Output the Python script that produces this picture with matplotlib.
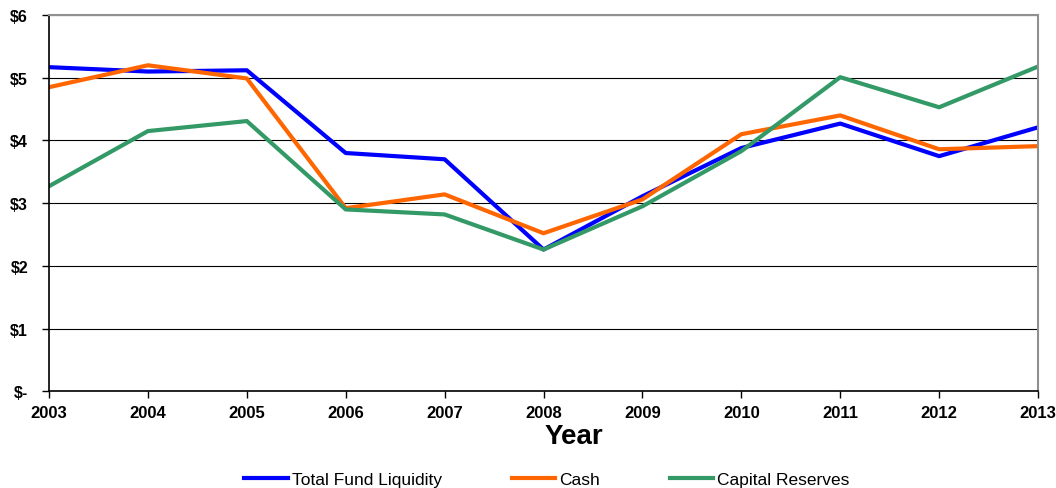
import matplotlib
matplotlib.use("Agg")
import matplotlib.pyplot as plt
from matplotlib.ticker import FuncFormatter

years = [2003, 2004, 2005, 2006, 2007, 2008, 2009, 2010, 2011, 2012, 2013]
total_fund_liquidity = [5.17, 5.10, 5.12, 3.80, 3.70, 2.26, 3.11, 3.88, 4.27, 3.75, 4.21]
cash = [4.85, 5.20, 4.99, 2.92, 3.14, 2.52, 3.06, 4.10, 4.40, 3.86, 3.91]
capital_reserves = [3.27, 4.15, 4.31, 2.90, 2.82, 2.26, 2.95, 3.83, 5.01, 4.53, 5.18]
yticks = [0, 1, 2, 3, 4, 5, 6]

plt.rcParams['font.family'] = ['Liberation Sans', 'DejaVu Sans']

fig = plt.figure(figsize=(10.56, 4.89), dpi=100)
ax = fig.add_axes([0.0464, 0.198, 0.9366, 0.769])

ax.plot(years, total_fund_liquidity, color='#0000FF', lw=3, label='Total Fund Liquidity')
ax.plot(years, cash, color='#FF6600', lw=3, label='Cash')
ax.plot(years, capital_reserves, color='#339966', lw=3, label='Capital Reserves')

ax.set_xlim(2003, 2013)
ax.set_ylim(0, 6)
ax.set_xticks(years)
ax.set_yticks(yticks)
ax.yaxis.set_major_formatter(FuncFormatter(lambda v, p: '$-' if v == 0 else f'${int(v)}'))
ax.grid(axis='y', color='black', lw=0.8)
ax.set_axisbelow(True)

for lab in ax.get_xticklabels():
    lab.set_fontweight('bold')
    lab.set_fontsize(12)
for lab in ax.get_yticklabels():
    lab.set_fontweight('bold')
    lab.set_fontsize(11.5)
ax.tick_params(direction='out', length=5, width=1, colors='black')
ax.tick_params(axis='x', pad=5)
ax.tick_params(axis='y', pad=10)

ax.spines['left'].set_color('black')
ax.spines['bottom'].set_color('black')
ax.spines['left'].set_linewidth(1.2)
ax.spines['bottom'].set_linewidth(1.2)
ax.spines['top'].set_color('#909090')
ax.spines['right'].set_color('#909090')
ax.spines['top'].set_linewidth(1.5)
ax.spines['right'].set_linewidth(1.5)

ax.set_xlabel('Year', fontsize=20, fontweight='bold', labelpad=3)
ax.xaxis.set_label_coords(0.531, -0.085)

leg = fig.legend(loc='center', bbox_to_anchor=(0.518, 0.018), ncol=3, frameon=False,
                 fontsize=12.5, handlelength=2.5, handletextpad=0.25, columnspacing=4.0)

fig.savefig('out.png', dpi=100)
